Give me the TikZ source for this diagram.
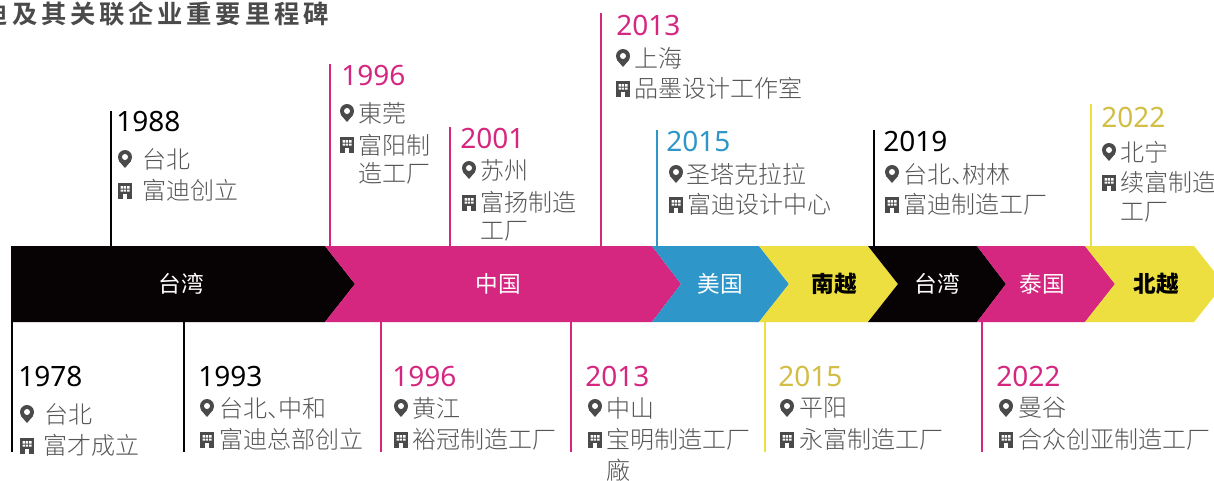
\documentclass[tikz,border=0pt]{standalone}
\usepackage{fontspec}
\usepackage{xcolor}
\usetikzlibrary{positioning, calc}
\setmainfont{Noto Sans CJK SC}
\newfontfamily\yearfont{Noto Sans}
\newfontfamily\lightfont{Noto Sans CJK SC Light}
\newfontfamily\titlefont[LetterSpace=15]{Noto Sans CJK SC Bold}
\newcommand{\dun}{、\kern-.55em}
\definecolor{barblack}{HTML}{070304}
\definecolor{barpink}{HTML}{D52680}
\definecolor{barblue}{HTML}{2E96C8}
\definecolor{baryellow}{HTML}{ECDF3F}
\definecolor{yeargold}{HTML}{D3BE45}
\definecolor{infogray}{HTML}{555555}
\definecolor{icongray}{HTML}{4A4A4A}
\tikzset{
	year/.style={anchor=west, inner sep=0pt, font=\yearfont\fontsize{21pt}{21pt}\selectfont},
	info/.style={anchor=west, inner sep=0pt, text=infogray, font=\lightfont\fontsize{18pt}{18pt}\selectfont},
	barlabel/.style={inner sep=0pt, text=white, font=\fontsize{17pt}{17pt}\selectfont},
	barlabeldark/.style={barlabel, text=black, font=\bfseries\fontsize{17pt}{17pt}\selectfont},
	stem/.style={line width=1.5pt},
	pics/pinicon/.style={code={
		\fill[icongray] (0,-2) circle (7);
		\fill[icongray] (-6,2) -- (0,9) -- (6,2) -- cycle;
		\fill[white] (0,-2) circle (3);
	}},
	pics/bldicon/.style={code={
		\fill[icongray] (-7,-8) rectangle (7,8);
		\fill[white] (-4.5,-5) rectangle (-2,-2.5) (-1.2,-5) rectangle (1.2,-2.5) (2,-5) rectangle (4.5,-2.5);
		\fill[white] (-4.5,-1.5) rectangle (-2,.5) (-1.2,-1.5) rectangle (1.2,.5) (2,-1.5) rectangle (4.5,.5);
		\fill[white] (-2.2,3) rectangle (2.2,8);
	}},
}
\begin{document}
\begin{tikzpicture}[x=0.75pt, y=-0.75pt]
	\clip (0,0) rectangle (1214,480);
	\fill[white] (0,0) rectangle (1214,480);

	% title
	\node[anchor=east, inner sep=0pt, text=icongray, font=\titlefont\fontsize{19pt}{19pt}\selectfont] (title) at (329,14) {迪及其关联企业重要里程碑};

	% bar
	\coordinate (barT) at (0,246);
	\coordinate (barB) at (0,322);
	\fill[barblack] (11,246) -- (325,246) -- (355,284) -- (325,322) -- (11,322) -- cycle;
	\fill[barpink] (325,246) -- (652,246) -- (681,284) -- (652,322) -- (325,322) -- (355,284) -- cycle;
	\fill[barblue] (652,246) -- (759,246) -- (789,284) -- (759,322) -- (652,322) -- (681,284) -- cycle;
	\fill[baryellow] (759,246) -- (868,246) -- (898,284) -- (868,322) -- (759,322) -- (789,284) -- cycle;
	\fill[barblack] (868,246) -- (977,246) -- (1006,284) -- (977,322) -- (868,322) -- (898,284) -- cycle;
	\fill[barpink] (977,246) -- (1085,246) -- (1115,284) -- (1085,322) -- (977,322) -- (1006,284) -- cycle;
	\fill[baryellow] (1085,246) -- (1194,246) -- (1224,284) -- (1194,322) -- (1085,322) -- (1115,284) -- cycle;

	\node[barlabel] (b1) at (181,284) {台湾};
	\node[barlabel] (b2) at (498,284) {中国};
	\node[barlabel] (b3) at (720,284) {美国};
	\node[barlabeldark] (b4) at (834,284) {南越};
	\node[barlabel] (b5) at (937,284) {台湾};
	\node[barlabel] (b6) at (1042,284) {泰国};
	\node[barlabeldark] (b7) at (1156,284) {北越};

	% top stems
	\coordinate (s1988) at (111,111);
	\coordinate (s1996) at (330,64);
	\coordinate (s2001) at (450,127);
	\coordinate (s2013) at (601,13);
	\coordinate (s2015) at (657,130);
	\coordinate (s2019) at (874,130);
	\coordinate (s2022) at (1091,104);
	\draw[stem, barblack] (s1988) -- (s1988 |- barT);
	\draw[stem, barpink] (s1996) -- (s1996 |- barT);
	\draw[stem, barpink] (s2001) -- (s2001 |- barT);
	\draw[stem, barpink] (s2013) -- (s2013 |- barT);
	\draw[stem, barblue] (s2015) -- (s2015 |- barT);
	\draw[stem, barblack] (s2019) -- (s2019 |- barT);
	\draw[stem, baryellow] (s2022) -- (s2022 |- barT);

	% bottom stems
	\coordinate (t1978) at (12,452);
	\coordinate (t1993) at (184,452);
	\coordinate (t1996) at (381,452);
	\coordinate (t2013) at (571,452);
	\coordinate (t2015) at (765,452);
	\coordinate (t2022) at (982,452);
	\draw[stem, barblack] (t1978 |- barB) -- (t1978);
	\draw[stem, barblack] (t1993 |- barB) -- (t1993);
	\draw[stem, barpink] (t1996 |- barB) -- (t1996);
	\draw[stem, barpink] (t2013 |- barB) -- (t2013);
	\draw[stem, baryellow] (t2015 |- barB) -- (t2015);
	\draw[stem, barpink] (t2022 |- barB) -- (t2022);

	% top milestones
	\node[year, text=black] (y1988) at (116,121) {1988};
	\pic at (125,159) {pinicon};
	\node[info] (c1988) at (142,159) {台北};
	\pic at (125,191) {bldicon};
	\node[info] (f1988) at (142,190) {富迪创立};

	\node[year, text=barpink] (y1996) at (341,75) {1996};
	\pic at (347,113) {pinicon};
	\node[info] (c1996) at (358,113) {東莞};
	\pic at (347,145) {bldicon};
	\node[info] (f1996) at (358,145) {富阳制};
	\node[info] (g1996) at (358,173) {造工厂};

	\node[year, text=barpink] (y2001) at (460,138) {2001};
	\pic at (469,170) {pinicon};
	\node[info] (c2001) at (480,170) {苏州};
	\pic at (469,203) {bldicon};
	\node[info] (f2001) at (480,202) {富扬制造};
	\node[info] (g2001) at (480,231) {工厂};

	\node[year, text=barpink] (y2013) at (616,25) {2013};
	\pic at (623,58) {pinicon};
	\node[info] (c2013) at (634,58) {上海};
	\pic at (623,89) {bldicon};
	\node[info] (f2013) at (634,88) {品墨设计工作室};

	\node[year, text=barblue] (y2015) at (666,141) {2015};
	\pic at (676,174) {pinicon};
	\node[info] (c2015) at (686,174) {圣塔克拉拉};
	\pic at (676,205) {bldicon};
	\node[info] (f2015) at (687,204) {富迪设计中心};

	\node[year, text=black] (y2019) at (883,141) {2019};
	\pic at (892,174) {pinicon};
	\node[info] (c2019) at (903,174) {台北\dun 树林};
	\pic at (892,205) {bldicon};
	\node[info] (f2019) at (903,204) {富迪制造工厂};

	\node[year, text=yeargold] (y2022) at (1101,117) {2022};
	\pic at (1109,152) {pinicon};
	\node[info] (c2022) at (1120,152) {北宁};
	\pic at (1109,183) {bldicon};
	\node[info] (f2022) at (1120,182) {续富制造};
	\node[info] (g2022) at (1120,212) {工厂};

	% bottom milestones
	\node[year, text=black] (y1978) at (18,376) {1978};
	\pic at (27,414) {pinicon};
	\node[info] (c1978) at (44,414) {台北};
	\pic at (27,446) {bldicon};
	\node[info] (f1978) at (43,445) {富才成立};

	\node[year, text=black] (y1993) at (198,376) {1993};
	\pic at (207,408) {pinicon};
	\node[info] (c1993) at (219,408) {台北\dun 中和};
	\pic at (207,440) {bldicon};
	\node[info] (f1993) at (219,439) {富迪总部创立};

	\node[year, text=barpink] (y1996b) at (392,376) {1996};
	\pic at (401,408) {pinicon};
	\node[info] (c1996b) at (412,408) {黄江};
	\pic at (401,440) {bldicon};
	\node[info] (f1996b) at (412,439) {裕冠制造工厂};

	\node[year, text=barpink] (y2013b) at (585,376) {2013};
	\pic at (595,408) {pinicon};
	\node[info] (c2013b) at (606,408) {中山};
	\pic at (595,440) {bldicon};
	\node[info] (f2013b) at (606,439) {宝明制造工厂};
	\node[info] (g2013b) at (606,470) {廠};

	\node[year, text=yeargold] (y2015b) at (778,376) {2015};
	\pic at (787,408) {pinicon};
	\node[info] (c2015b) at (799,408) {平阳};
	\pic at (787,440) {bldicon};
	\node[info] (f2015b) at (799,439) {永富制造工厂};

	\node[year, text=barpink] (y2022b) at (996,376) {2022};
	\pic at (1006,408) {pinicon};
	\node[info] (c2022b) at (1018,408) {曼谷};
	\pic at (1006,440) {bldicon};
	\node[info] (f2022b) at (1018,439) {合众创亚制造工厂};
\end{tikzpicture}
\end{document}
